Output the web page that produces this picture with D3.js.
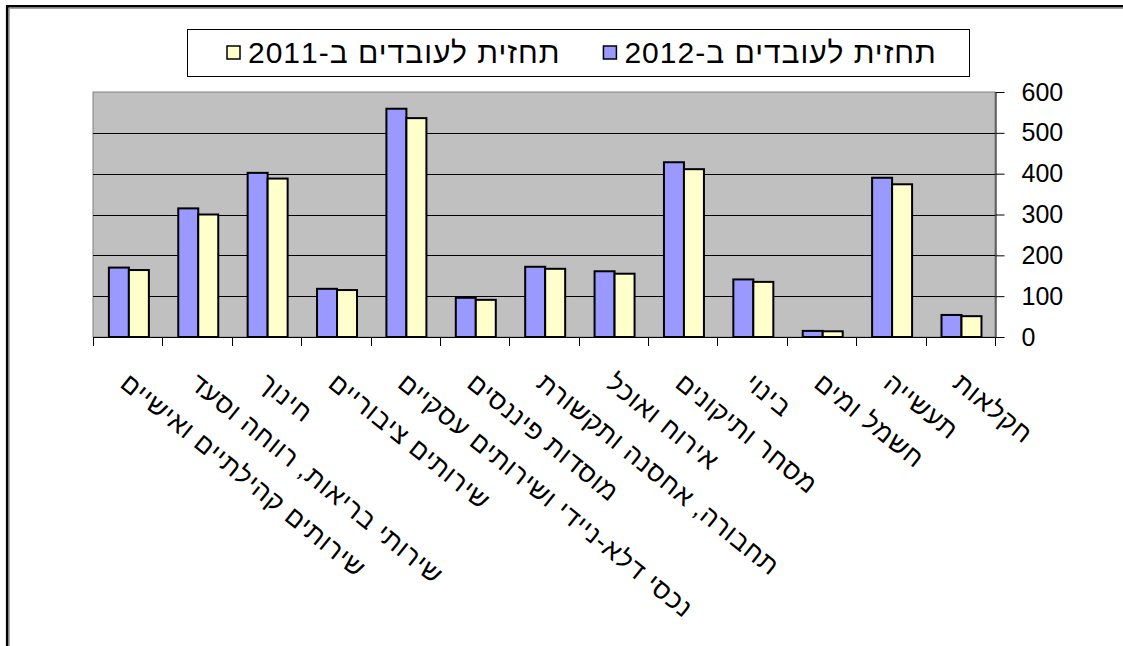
<!DOCTYPE html>
<html>
<head>
<meta charset="utf-8">
<script src="https://cdn.jsdelivr.net/npm/d3@7"></script>
<style>
  body { margin: 0; background: #ffffff; }
  svg { display: block; }
  text { font-family: "Liberation Sans", Arial, sans-serif; fill: #000; }
</style>
</head>
<body>
<svg id="chart" width="1123" height="646"></svg>
<script>
// Sector categories, in data order (the chart reads right to left)
const categories = [
  "חקלאות",
  "תעשייה",
  "חשמל ומים",
  "בינוי",
  "מסחר ותיקונים",
  "אירוח ואוכל",
  "תחבורה, אחסנה ותקשורת",
  "מוסדות פיננסים",
  "נכסי דלא-ניידי ושירותים עסקיים",
  "שירותים ציבוריים",
  "חינוך",
  "שירותי בריאות, רווחה וסעד",
  "שירותים קהילתיים ואישיים"
];
const forecast2012 = [54, 390, 15, 141, 428, 161, 172, 96, 559, 118, 402, 315, 170];
const forecast2011 = [51, 374, 14, 135, 411, 155, 167, 91, 536, 115, 388, 300, 164];
const seriesNames = ["תחזית לעובדים ב-2012", "תחזית לעובדים ב-2011"];
const seriesColors = ["#9999FF", "#FFFFCC"];
const yTicks = [0, 100, 200, 300, 400, 500, 600];

const svg = d3.select("#chart");

// Outer frame (top and left edges)
svg.append("path").attr("d", "M7.2,646V6.3H1123")
  .attr("fill", "none").attr("stroke", "#000").attr("stroke-width", 2.6);
svg.append("path").attr("d", "M9.2,646V8.3H1123")
  .attr("fill", "none").attr("stroke", "#888").attr("stroke-width", 1);

const plot = { left: 93, right: 995, top: 92, bottom: 337 };

const x = d3.scaleBand().domain(categories)
  .range([plot.right, plot.left]).paddingInner(0).paddingOuter(0);
const xs = d3.scaleBand().domain(seriesNames)
  .range([0, x.bandwidth()]).paddingInner(0).paddingOuter(0.735).align(0.54);
const y = d3.scaleLinear().domain([0, 600]).range([plot.bottom, plot.top]);

// Plot background
svg.append("rect")
  .attr("x", plot.left).attr("y", plot.top)
  .attr("width", plot.right - plot.left).attr("height", plot.bottom - plot.top)
  .attr("fill", "#C0C0C0").attr("stroke", "#808080").attr("stroke-width", 1);

// Horizontal gridlines
svg.append("g").selectAll("line")
  .data(yTicks.filter(t => t > 0 && t < 600))
  .join("line")
  .attr("x1", plot.left).attr("x2", plot.right)
  .attr("y1", d => Math.round(y(d)) + 0.5).attr("y2", d => Math.round(y(d)) + 0.5)
  .attr("stroke", "#000").attr("stroke-width", 1);

// Bars
const rows = categories.map((c, i) => ({ c, vals: [forecast2012[i], forecast2011[i]] }));
const groups = svg.append("g").selectAll("g")
  .data(rows).join("g")
  .attr("transform", d => `translate(${x(d.c)},0)`);
groups.selectAll("rect")
  .data(d => d.vals.map((v, k) => ({ k, v })))
  .join("rect")
  .attr("x", d => xs(seriesNames[d.k]))
  .attr("width", xs.bandwidth())
  .attr("y", d => y(d.v))
  .attr("height", d => y(0) - y(d.v))
  .attr("fill", d => seriesColors[d.k])
  .attr("stroke", "#000").attr("stroke-width", 2);

// Category axis
const boundaries = categories.map(c => x(c)).concat([plot.right]);
const xAxis = svg.append("g");
xAxis.append("line")
  .attr("x1", plot.left).attr("x2", plot.right)
  .attr("y1", plot.bottom + 0.5).attr("y2", plot.bottom + 0.5)
  .attr("stroke", "#000");
xAxis.selectAll("line.tick").data(boundaries).join("line").attr("class", "tick")
  .attr("x1", d => Math.round(d) + 0.5).attr("x2", d => Math.round(d) + 0.5)
  .attr("y1", plot.bottom).attr("y2", plot.bottom + 9)
  .attr("stroke", "#000");

// Rotated category labels
const labelSize = 26;
const angle = 39;
const labels = svg.append("g").selectAll("g")
  .data(categories).join("g")
  .attr("transform", c => `translate(${x(c) + x.bandwidth() / 2 - 9},386) rotate(${angle})`);
labels.append("text")
  .attr("direction", "rtl")
  .attr("text-anchor", "middle")
  .style("font-size", labelSize + "px")
  .style("letter-spacing", "1px")
  .attr("fill", "#111")
  .text(c => c)
  .attr("x", function () { return this.getComputedTextLength() / 2; });

// Value axis on the right
const yAxis = svg.append("g")
  .attr("transform", `translate(${plot.right + 0.5},0)`)
  .call(d3.axisRight(y).tickValues(yTicks).tickSize(9).tickPadding(17).tickSizeOuter(0));
yAxis.select(".domain").attr("stroke", "#000");
yAxis.selectAll(".tick line").attr("stroke", "#000");
yAxis.selectAll(".tick text")
  .style("font-size", "25px")
  .style("font-family", "'Liberation Sans', Arial, sans-serif")
  .attr("fill", "#000");

// Legend
const legend = svg.append("g");
legend.append("rect")
  .attr("x", 187.5).attr("y", 29.5).attr("width", 782).attr("height", 47)
  .attr("fill", "#fff").attr("stroke", "#000").attr("stroke-width", 1);
let lx = 227;
[1, 0].forEach(k => {
  legend.append("rect")
    .attr("x", lx).attr("y", 46).attr("width", 13).attr("height", 13)
    .attr("fill", seriesColors[k]).attr("stroke", "#000").attr("stroke-width", 1.5);
  const t = legend.append("text")
    .attr("direction", "rtl")
    .attr("text-anchor", "middle")
    .attr("y", 52).attr("dy", "0.35em")
    .style("font-size", "30px")
    .style("letter-spacing", "1px")
    .text(seriesNames[k]);
  const w = t.node().getComputedTextLength();
  t.attr("x", lx + 21 + w / 2);
  lx += 21 + w + 43;
});
</script>
</body>
</html>
